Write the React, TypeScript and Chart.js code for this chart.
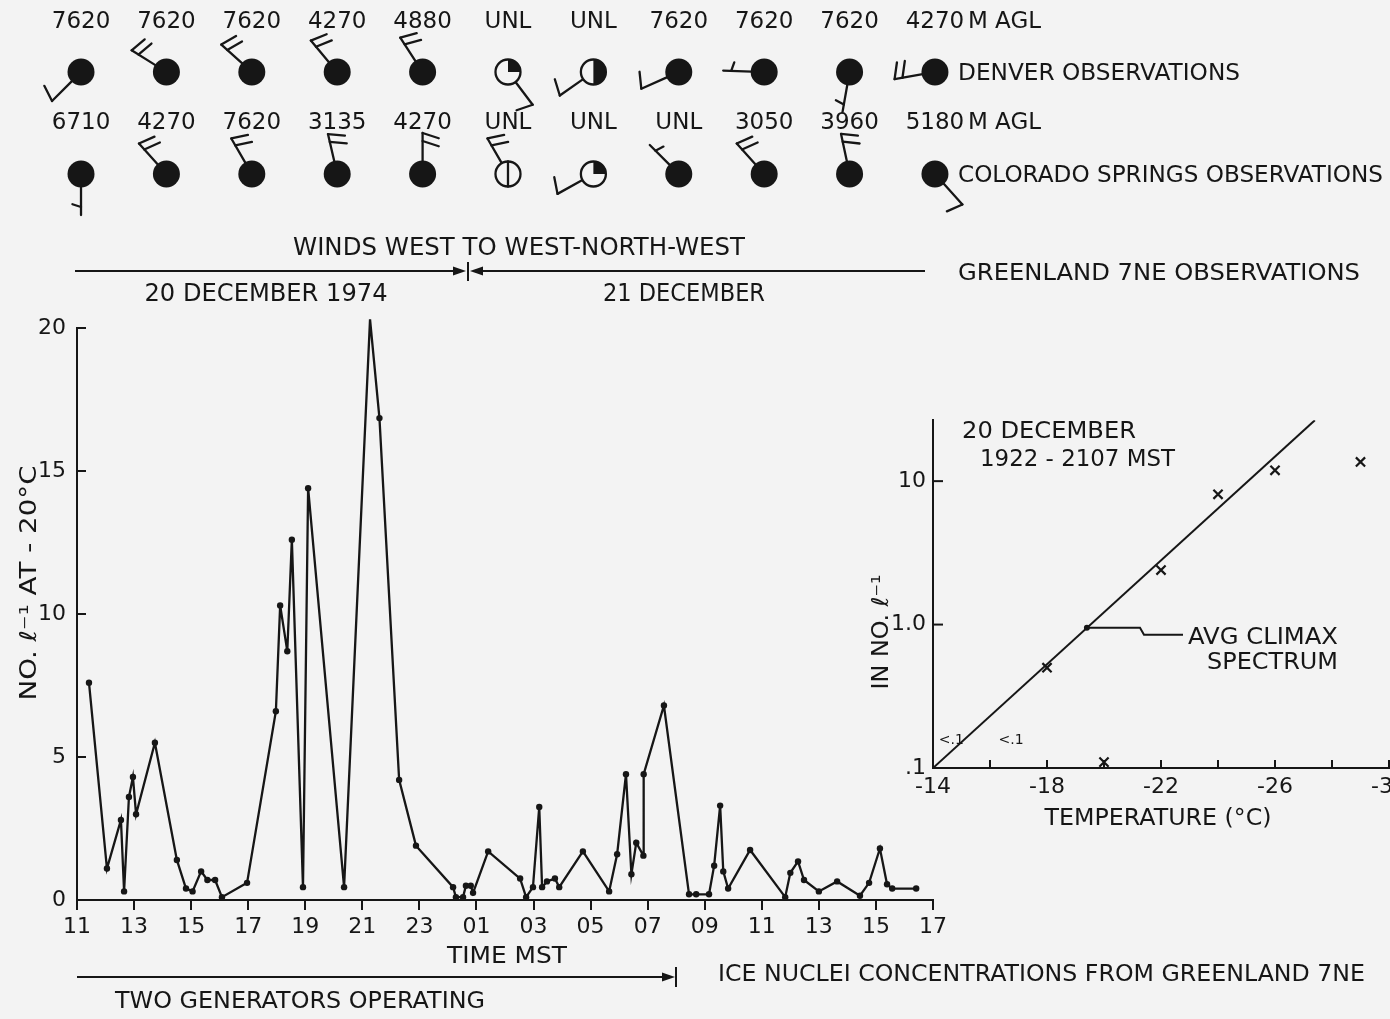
import React, { useEffect, useRef } from "react";
import { Chart, registerables } from "chart.js";

Chart.register(...registerables);

const FONT = '"DejaVu Sans", "Liberation Sans", sans-serif';
const INK = "#161616";
const PAPER = "#f3f3f3";

// ---------- Ice nuclei concentrations, Greenland 7NE (hours MST; values > 24 are on 21 December)
const iceHours = [11.42, 12.05, 12.54, 12.65, 12.82, 12.96, 13.07, 13.73, 14.5, 14.82, 15.05, 15.35, 15.57, 15.84, 16.08, 16.96, 17.97, 18.12, 18.37, 18.53, 18.92, 19.1, 20.36, 21.27, 21.6, 22.29, 22.88, 24.18, 24.28, 24.53, 24.63, 24.8, 24.88, 25.41, 26.53, 26.74, 26.98, 27.2, 27.3, 27.47, 27.75, 27.9, 28.73, 29.65, 29.93, 30.24, 30.43, 30.6, 30.85, 30.86, 31.57, 32.45, 32.7, 33.15, 33.33, 33.54, 33.65, 33.82, 34.59, 35.82, 36.0, 36.27, 36.48, 37.0, 37.64, 38.44, 38.76, 39.14, 39.39, 39.57, 40.41];
const iceValues = [7.6, 1.1, 2.8, 0.3, 3.6, 4.3, 3.0, 5.5, 1.4, 0.4, 0.3, 1.0, 0.7, 0.7, 0.1, 0.6, 6.6, 10.3, 8.7, 12.6, 0.45, 14.4, 0.45, 20.3, 16.85, 4.2, 1.9, 0.45, 0.1, 0.1, 0.5, 0.5, 0.25, 1.7, 0.75, 0.1, 0.45, 3.25, 0.45, 0.65, 0.75, 0.45, 1.7, 0.3, 1.6, 4.4, 0.9, 2.0, 1.55, 4.4, 6.8, 0.2, 0.2, 0.2, 1.2, 3.3, 1.0, 0.4, 1.75, 0.1, 0.95, 1.35, 0.7, 0.3, 0.65, 0.15, 0.6, 1.8, 0.55, 0.4, 0.4];
const timeTickValues = [11, 13, 15, 17, 19, 21, 23, 25, 27, 29, 31, 33, 35, 37, 39, 41];
const timeTickLabels = ["11", "13", "15", "17", "19", "21", "23", "01", "03", "05", "07", "09", "11", "13", "15", "17"];
const concTickValues = [0, 5, 10, 15, 20];
const concTickLabels = ["0", "5", "10", "15", "20"];

// ---------- Upper-air wind observations (station slot index, direction deg, speed kt, sky cover)
const stationSlots = [0, 1, 2, 3, 4, 5, 6, 7, 8, 9, 10];
const denverHeights = ["7620", "7620", "7620", "4270", "4880", "UNL", "UNL", "7620", "7620", "7620", "4270"];
const denverDirs = [225, 302, 312, 320, 327, 143, 235, 246, 272, 190, 260];
const denverSpeeds = [10, 20, 20, 20, 20, 10, 10, 10, 5, 5, 20];
const denverCover = ["full", "full", "full", "full", "full", "quarter", "half", "full", "full", "full", "full"];
const springsHeights = ["6710", "4270", "7620", "3135", "4270", "UNL", "UNL", "UNL", "3050", "3960", "5180"];
const springsDirs = [180, 318, 330, 347, 0, 330, 241, 315, 318, 348, 138];
const springsSpeeds = [5, 20, 20, 20, 20, 20, 10, 5, 20, 20, 10];
const springsCover = ["full", "full", "full", "full", "full", "obscured", "quarter", "full", "full", "full", "full"];

// ---------- Inset: spectrum 20 December 1922-2107 MST
const climaxTemps = [-14, -27.4];
const climaxConc = [0.1, 26.6];
const greenlandTemps = [-18, -20, -22, -24, -26, -29];
const greenlandConc = [0.5, 0.11, 2.4, 8.1, 11.9, 13.6];
const belowTemps = [-14.2, -16.3];
const belowConc = [0.16, 0.16];
const pointerTemp = -19.4;
const pointerConc = 0.95;
const insetXTickValues = [-14, -18, -22, -26, -30];
const insetXTickLabels = ["-14", "-18", "-22", "-26", "-30"];
const insetYTickValues = [0.1, 1, 10];
const insetYTickLabels = [".1", "1.0", "10"];

type Align = "left" | "center" | "right";

function drawText(
  ctx: CanvasRenderingContext2D,
  s: string,
  x: number,
  y: number,
  align: Align = "left",
  size = 23,
  width?: number,
  rotate = false
) {
  ctx.save();
  ctx.font = `${size}px ${FONT}`;
  ctx.fillStyle = INK;
  ctx.textBaseline = "alphabetic";
  ctx.textAlign = "left";
  const w = ctx.measureText(s).width;
  const sx = width ? width / w : 1;
  const dw = w * sx;
  ctx.translate(x, y);
  if (rotate) ctx.rotate(-Math.PI / 2);
  let left = 0;
  if (align === "center") left = -dw / 2;
  else if (align === "right") left = -dw;
  ctx.translate(left, size * 0.36);
  ctx.scale(sx, 1);
  ctx.fillText(s, 0, 0);
  ctx.restore();
}

function drawStation(
  ctx: CanvasRenderingContext2D,
  cx: number,
  cy: number,
  dir: number,
  speed: number,
  cover: string
) {
  const r = 12.5;
  const L = 41;
  const a = (dir * Math.PI) / 180;
  const dx = Math.sin(a);
  const dy = -Math.cos(a);
  const px = -dy;
  const py = dx;
  const tilt = (-18 * Math.PI) / 180;
  const bx = px * Math.cos(tilt) + dx * Math.sin(tilt);
  const by = py * Math.cos(tilt) + dy * Math.sin(tilt);
  ctx.save();
  ctx.strokeStyle = INK;
  ctx.fillStyle = INK;
  ctx.lineWidth = 2.3;
  ctx.lineCap = "round";
  ctx.lineJoin = "round";
  ctx.beginPath();
  ctx.moveTo(cx + dx * r, cy + dy * r);
  ctx.lineTo(cx + dx * L, cy + dy * L);
  ctx.stroke();
  const full = Math.floor(speed / 10);
  const half = speed % 10 >= 5;
  const gap = 8;
  let pos = full === 0 && half ? L - gap : L;
  for (let i = 0; i < full; i++) {
    const sx = cx + dx * pos;
    const sy = cy + dy * pos;
    ctx.beginPath();
    ctx.moveTo(sx, sy);
    ctx.lineTo(sx + bx * 17, sy + by * 17);
    ctx.stroke();
    pos -= gap;
  }
  if (half) {
    const sx = cx + dx * pos;
    const sy = cy + dy * pos;
    ctx.beginPath();
    ctx.moveTo(sx, sy);
    ctx.lineTo(sx + bx * 9, sy + by * 9);
    ctx.stroke();
  }
  if (cover === "full") {
    ctx.beginPath();
    ctx.arc(cx, cy, 13.5, 0, Math.PI * 2);
    ctx.fill();
  } else {
    ctx.fillStyle = PAPER;
    ctx.beginPath();
    ctx.arc(cx, cy, 12.5, 0, Math.PI * 2);
    ctx.fill();
    ctx.fillStyle = INK;
    if (cover === "quarter" || cover === "half") {
      ctx.beginPath();
      ctx.moveTo(cx, cy);
      ctx.arc(cx, cy, 12.5, -Math.PI / 2, cover === "quarter" ? 0 : Math.PI / 2);
      ctx.closePath();
      ctx.fill();
    }
    if (cover === "obscured") {
      ctx.beginPath();
      ctx.moveTo(cx, cy - 12.5);
      ctx.lineTo(cx, cy + 12.5);
      ctx.stroke();
    }
    ctx.beginPath();
    ctx.arc(cx, cy, 12.5, 0, Math.PI * 2);
    ctx.stroke();
  }
  ctx.restore();
}

function arrowHead(ctx: CanvasRenderingContext2D, tipX: number, y: number, dirSign: number) {
  ctx.beginPath();
  ctx.moveTo(tipX, y);
  ctx.lineTo(tipX - dirSign * 13, y - 4.5);
  ctx.lineTo(tipX - dirSign * 13, y + 4.5);
  ctx.closePath();
  ctx.fill();
}

const mainDecor = {
  id: "mainDecor",
  afterDraw(chart: any) {
    const ctx: CanvasRenderingContext2D = chart.ctx;
    const area = chart.chartArea;
    const ys = chart.scales.y;
    const xw = chart.scales.xw;
    ctx.save();
    ctx.strokeStyle = INK;
    ctx.fillStyle = INK;
    ctx.lineWidth = 2;
    // inward y ticks
    ys.ticks.forEach((t: any) => {
      if (t.value === 0) return;
      const py = ys.getPixelForValue(t.value);
      ctx.beginPath();
      ctx.moveTo(area.left, py);
      ctx.lineTo(area.left + 9, py);
      ctx.stroke();
    });

    // station rows
    const rows = [
      { heights: denverHeights, dirs: denverDirs, speeds: denverSpeeds, cover: denverCover, hy: 20, cy: 72, name: "DENVER OBSERVATIONS", nameW: 282 },
      { heights: springsHeights, dirs: springsDirs, speeds: springsSpeeds, cover: springsCover, hy: 121, cy: 174, name: "COLORADO SPRINGS OBSERVATIONS", nameW: 425 },
    ];
    rows.forEach((row) => {
      stationSlots.forEach((slot, i) => {
        const cx = xw.getPixelForValue(slot);
        drawText(ctx, row.heights[i], cx, row.hy, "center", 23);
        if (i === stationSlots.length - 1) {
          drawText(ctx, "M AGL", cx + 33, row.hy, "left", 23);
        }
        drawStation(ctx, cx, row.cy, row.dirs[i], row.speeds[i], row.cover[i]);
      });
      drawText(ctx, row.name, 958, row.cy, "left", 23, row.nameW);
    });

    // Greenland row
    drawText(ctx, "WINDS WEST TO WEST-NORTH-WEST", 519, 246, "center", 25, 452);
    ctx.lineWidth = 2;
    ctx.beginPath();
    ctx.moveTo(75, 271);
    ctx.lineTo(462, 271);
    ctx.moveTo(474, 271);
    ctx.lineTo(925, 271);
    ctx.moveTo(468, 262);
    ctx.lineTo(468, 281);
    ctx.stroke();
    arrowHead(ctx, 466, 271, 1);
    arrowHead(ctx, 470, 271, -1);
    drawText(ctx, "GREENLAND 7NE OBSERVATIONS", 958, 272, "left", 23, 402);
    drawText(ctx, "20 DECEMBER 1974", 266, 292, "center", 24, 243);
    drawText(ctx, "21 DECEMBER", 684, 292, "center", 24, 162);

    // axis titles
    drawText(ctx, "NO. \u2113\u207B\u00B9 AT - 20\u00B0C", 28, 583, "center", 23, 235, true);
    drawText(ctx, "TIME MST", 507, 955, "center", 23, 120);

    // generators bar
    ctx.beginPath();
    ctx.moveTo(77, 977);
    ctx.lineTo(664, 977);
    ctx.moveTo(676, 967);
    ctx.lineTo(676, 987);
    ctx.stroke();
    arrowHead(ctx, 675, 977, 1);
    drawText(ctx, "TWO GENERATORS OPERATING", 300, 1000, "center", 23, 370);
    drawText(ctx, "ICE NUCLEI CONCENTRATIONS FROM GREENLAND 7NE", 718, 973, "left", 23, 647);
    ctx.restore();
  },
};

const insetDecor = {
  id: "insetDecor",
  afterDraw(chart: any) {
    const ctx: CanvasRenderingContext2D = chart.ctx;
    const area = chart.chartArea;
    const xs = chart.scales.x;
    const ys = chart.scales.y;
    ctx.save();
    ctx.strokeStyle = INK;
    ctx.fillStyle = INK;
    ctx.lineWidth = 2;
    xs.ticks.forEach((t: any) => {
      if (t.value === -14) return;
      const px = xs.getPixelForValue(t.value);
      ctx.beginPath();
      ctx.moveTo(px, area.bottom);
      ctx.lineTo(px, area.bottom - 8);
      ctx.stroke();
    });
    ys.ticks.forEach((t: any) => {
      if (t.value === 0.1) return;
      const py = ys.getPixelForValue(t.value);
      ctx.beginPath();
      ctx.moveTo(area.left, py);
      ctx.lineTo(area.left + 10, py);
      ctx.stroke();
    });
    // "<.1" notes
    belowTemps.forEach((t, i) => {
      drawText(ctx, "<.1", xs.getPixelForValue(t), ys.getPixelForValue(belowConc[i]), "left", 14);
    });
    // pointer to the average Climax spectrum
    const ppx = xs.getPixelForValue(pointerTemp);
    const ppy = ys.getPixelForValue(pointerConc);
    ctx.beginPath();
    ctx.arc(ppx, ppy, 3, 0, Math.PI * 2);
    ctx.fill();
    ctx.beginPath();
    ctx.moveTo(ppx, ppy);
    ctx.lineTo(300, ppy);
    ctx.lineTo(304, ppy + 7);
    ctx.lineTo(343, ppy + 7);
    ctx.stroke();
    drawText(ctx, "AVG CLIMAX", 348, ppy + 8, "left", 23, 150);
    drawText(ctx, "SPECTRUM", 367, ppy + 33, "left", 23, 131);
    drawText(ctx, "20 DECEMBER", 122, 30, "left", 23, 174);
    drawText(ctx, "1922 - 2107 MST", 140, 58, "left", 23, 195);
    drawText(ctx, "TEMPERATURE (\u00B0C)", 318, 417, "center", 23, 227);
    drawText(ctx, "IN NO. \u2113\u207B\u00B9", 40, 232, "center", 23, 115, true);
    ctx.restore();
  },
};

export default function App() {
  const mainRef = useRef<HTMLCanvasElement>(null);
  const insetRef = useRef<HTMLCanvasElement>(null);

  useEffect(() => {
    const tickFont = { family: FONT, size: 22 };
    const main = new Chart(mainRef.current as HTMLCanvasElement, {
      type: "line",
      data: {
        datasets: [
          {
            data: iceHours.map((h, i) => ({ x: h, y: iceValues[i] })),
            borderColor: INK,
            borderWidth: 2.3,
            pointRadius: 3.2,
            pointBackgroundColor: INK,
            pointBorderWidth: 0,
            tension: 0,
            clip: false as any,
          },
        ],
      },
      options: {
        animation: false,
        responsive: false,
        devicePixelRatio: 1,
        layout: { padding: { left: 7, right: 457, top: 328, bottom: 69 } },
        plugins: { legend: { display: false }, tooltip: { enabled: false } },
        scales: {
          x: {
            type: "linear",
            min: 11,
            max: 41,
            afterBuildTicks: (s: any) => {
              s.ticks = timeTickValues.map((v) => ({ value: v }));
            },
            afterFit: (s: any) => {
              s.height = 50;
            },
            ticks: {
              autoSkip: false,
              maxRotation: 0,
              padding: 4,
              color: INK,
              font: tickFont,
              callback: (v: any) => {
                const i = timeTickValues.indexOf(Number(v));
                return i >= 0 ? timeTickLabels[i] : "";
              },
            },
            grid: { display: true, drawOnChartArea: false, drawTicks: true, tickLength: 10, color: INK, lineWidth: 2 },
            border: { display: true, color: INK, width: 2 },
          },
          y: {
            type: "linear",
            min: 0,
            max: 20,
            afterBuildTicks: (s: any) => {
              s.ticks = concTickValues.map((v) => ({ value: v }));
            },
            afterFit: (s: any) => {
              s.width = 70;
            },
            ticks: {
              padding: 11,
              color: INK,
              font: tickFont,
              callback: (v: any) => {
                const i = concTickValues.indexOf(Number(v));
                return i >= 0 ? concTickLabels[i] : "";
              },
            },
            grid: { display: false, drawTicks: false },
            border: { display: true, color: INK, width: 2 },
          },
          xw: {
            type: "linear",
            display: false,
            position: "bottom",
            min: -0.047,
            max: 9.977,
          },
        },
      } as any,
      plugins: [mainDecor],
    });

    const inset = new Chart(insetRef.current as HTMLCanvasElement, {
      type: "scatter",
      data: {
        datasets: [
          {
            data: climaxTemps.map((t, i) => ({ x: t, y: climaxConc[i] })),
            showLine: true,
            borderColor: INK,
            borderWidth: 2,
            pointRadius: 0,
          },
          {
            data: greenlandTemps.map((t, i) => ({ x: t, y: greenlandConc[i] })),
            showLine: false,
            pointStyle: "crossRot",
            pointRadius: 6.5,
            borderColor: INK,
            borderWidth: 2.2,
            clip: false as any,
          },
        ],
      },
      options: {
        animation: false,
        responsive: false,
        devicePixelRatio: 1,
        layout: { padding: { left: 33, right: 51, top: 20, bottom: 52 } },
        plugins: { legend: { display: false }, tooltip: { enabled: false } },
        scales: {
          x: {
            type: "linear",
            reverse: true,
            min: -30,
            max: -14,
            ticks: {
              stepSize: 2,
              autoSkip: false,
              maxRotation: 0,
              padding: 6,
              color: INK,
              font: tickFont,
              callback: (v: any) => {
                const i = insetXTickValues.indexOf(Number(v));
                return i >= 0 ? insetXTickLabels[i] : "";
              },
            },
            afterFit: (s: any) => {
              s.height = 40;
            },
            grid: { display: false, drawTicks: false },
            border: { display: true, color: INK, width: 2 },
          },
          y: {
            type: "logarithmic",
            min: 0.1,
            max: 26.6,
            afterBuildTicks: (s: any) => {
              s.ticks = insetYTickValues.map((v) => ({ value: v }));
            },
            afterFit: (s: any) => {
              s.width = 60;
            },
            ticks: {
              padding: 7,
              color: INK,
              font: tickFont,
              callback: (v: any) => {
                const i = insetYTickValues.indexOf(Number(v));
                return i >= 0 ? insetYTickLabels[i] : "";
              },
            },
            grid: { display: false, drawTicks: false },
            border: { display: true, color: INK, width: 2 },
          },
        },
      } as any,
      plugins: [insetDecor],
    });

    return () => {
      main.destroy();
      inset.destroy();
    };
  }, []);

  return (
    <div
      style={{
        position: "fixed",
        left: 0,
        top: 0,
        width: 1390,
        height: 1019,
        background: PAPER,
        overflow: "hidden",
      }}
    >
      <canvas
        ref={mainRef}
        width={1390}
        height={1019}
        style={{ position: "absolute", left: 0, top: 0, width: 1390, height: 1019 }}
      />
      <canvas
        ref={insetRef}
        width={600}
        height={460}
        style={{ position: "absolute", left: 840, top: 400, width: 600, height: 460 }}
      />
    </div>
  );
}
